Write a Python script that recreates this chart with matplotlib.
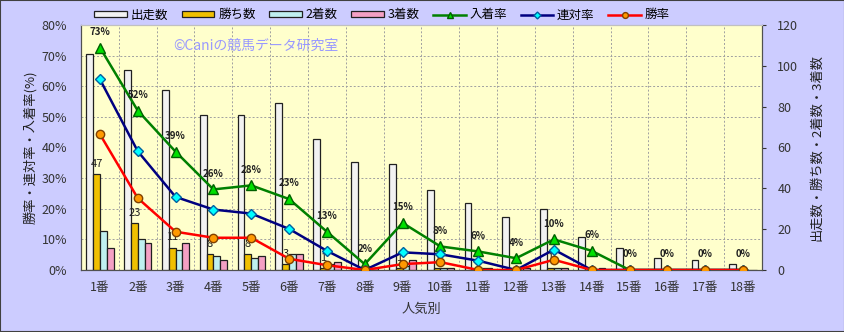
import numpy as np
import matplotlib
matplotlib.use("Agg")
import matplotlib.pyplot as plt
from matplotlib.ticker import MultipleLocator, FixedLocator
from matplotlib.patches import Rectangle

plt.rcParams['font.family'] = ['Noto Sans CJK JP', 'DejaVu Sans']

# 人気別データ
categories = [f"{i}番" for i in range(1, 19)]
runs = [106, 98, 88, 76, 76, 82, 64, 53, 52, 39, 33, 26, 30, 16, 11, 6, 5, 3]
wins = [47, 23, 11, 8, 8, 3, 1, 0, 1, 1, 0, 0, 1, 0, 0, 0, 0, 0]
seconds = [19, 15, 10, 7, 6, 8, 3, 0, 2, 1, 1, 0, 1, 0, 0, 0, 0, 0]
thirds = [11, 13, 13, 5, 7, 8, 4, 1, 5, 1, 1, 1, 1, 1, 0, 0, 0, 0]

runs_a = np.array(runs, dtype=float)
win_rate = np.array(wins) / runs_a * 100
rentai_rate = (np.array(wins) + np.array(seconds)) / runs_a * 100
place_rate = (np.array(wins) + np.array(seconds) + np.array(thirds)) / runs_a * 100

fig = plt.figure(figsize=(8.45, 3.32), dpi=100, facecolor="#CCCCFF")
ax = fig.add_axes([81 / 845, 62 / 332, 681 / 845, 245 / 332])
ax.set_facecolor("#FFFFCC")
x = np.arange(len(categories))
w = 0.18

# 棒グラフ（右軸）
b1 = ax.bar(x - 1.5 * w, runs, w, color="#F2F2F2", edgecolor="#202020", linewidth=0.9, zorder=3, label="出走数")
b2 = ax.bar(x - 0.5 * w, wins, w, color="#F0C000", edgecolor="#202020", linewidth=0.9, zorder=3, label="勝ち数")
b3 = ax.bar(x + 0.5 * w, seconds, w, color="#BFF0F0", edgecolor="#202020", linewidth=0.9, zorder=3, label="2着数")
b4 = ax.bar(x + 1.5 * w, thirds, w, color="#F4A0C4", edgecolor="#202020", linewidth=0.9, zorder=3, label="3着数")
for xi, v in zip(x, wins):
    if v > 0:
        ax.text(xi - 0.5 * w, v + 2.5, str(v), ha="center", va="bottom", fontsize=8, color="#202020", zorder=4)

ax.set_xlim(-0.5, len(categories) - 0.5)
ax.set_ylim(0, 120)

# 折れ線（左軸）
ax2 = ax.twinx()

ax.yaxis.tick_right()
ax.yaxis.set_label_position("right")
ax.yaxis.set_major_locator(MultipleLocator(20))
ax.yaxis.set_minor_locator(MultipleLocator(15))
ax.xaxis.set_minor_locator(FixedLocator(x[:-1] + 0.5))
ax.grid(which="minor", color="#A0A0A0", linestyle=(0, (2, 2)), linewidth=0.7)
ax.tick_params(which="minor", length=0)
ax.set_axisbelow(True)
ax.set_xticks(x)
ax.set_xticklabels(categories)
ax.tick_params(axis="x", length=0, pad=8, labelsize=9, colors="#333333")
ax.tick_params(axis="y", which="major", length=3, pad=8, labelsize=9, colors="#333333")
ax.set_ylabel("出走数・勝ち数・2着数・3着数", fontsize=9.5, color="#202020", labelpad=9)
ax.set_xlabel("人気別", fontsize=9.5, color="#333333", labelpad=6)

ax2.yaxis.tick_left()
ax2.yaxis.set_label_position("left")
ax2.set_ylim(0, 80)
ax2.yaxis.set_major_locator(MultipleLocator(10))
ax2.yaxis.set_major_formatter(lambda v, p: f"{v:.0f}%")
ax2.tick_params(axis="y", length=0, pad=10, labelsize=9, colors="#333333")
ax2.set_ylabel("勝率・連対率・入着率(%)", fontsize=9.5, color="#202020", labelpad=3)

l1, = ax2.plot(x, place_rate, color="#008000", linewidth=1.8, marker="^", markersize=7,
               markerfacecolor="#00E000", markeredgecolor="#006000", label="入着率", zorder=5)
l2, = ax2.plot(x, rentai_rate, color="#000080", linewidth=1.8, marker="D", markersize=5,
               markerfacecolor="#00FFFF", markeredgecolor="#0060A0", label="連対率", zorder=5)
l3, = ax2.plot(x, win_rate, color="#FF0000", linewidth=1.8, marker="o", markersize=6,
               markerfacecolor="#FF9900", markeredgecolor="#804000", label="勝率", zorder=6)
for xi, v in zip(x, place_rate):
    ax2.text(xi, v + 3.5, f"{int(v + 0.5)}%", ha="center", va="bottom", fontsize=7, fontweight="bold",
             color="#202020", zorder=7)

for a in (ax, ax2):
    for s in a.spines.values():
        s.set_color("#505050")
    a.spines["top"].set_color("#C0C0C0")

ax2.text(0.135, 0.915, "©Caniの競馬データ研究室", transform=ax2.transAxes, fontsize=10,
         color="#9999FF", ha="left", va="center", zorder=1)

fig.legend(handles=[b1, b2, b3, b4, l1, l2, l3], loc="center", bbox_to_anchor=(0.452, 0.955),
           ncol=7, frameon=False, fontsize=9, handlelength=2.6, handleheight=0.45,
           columnspacing=1.1, handletextpad=0.3, markerscale=0.7)

fig.add_artist(Rectangle((0, 0), 1, 1, transform=fig.transFigure, fill=False,
                         edgecolor="#404040", linewidth=1.5))

fig.savefig("out.png", dpi=100, facecolor=fig.get_facecolor())
